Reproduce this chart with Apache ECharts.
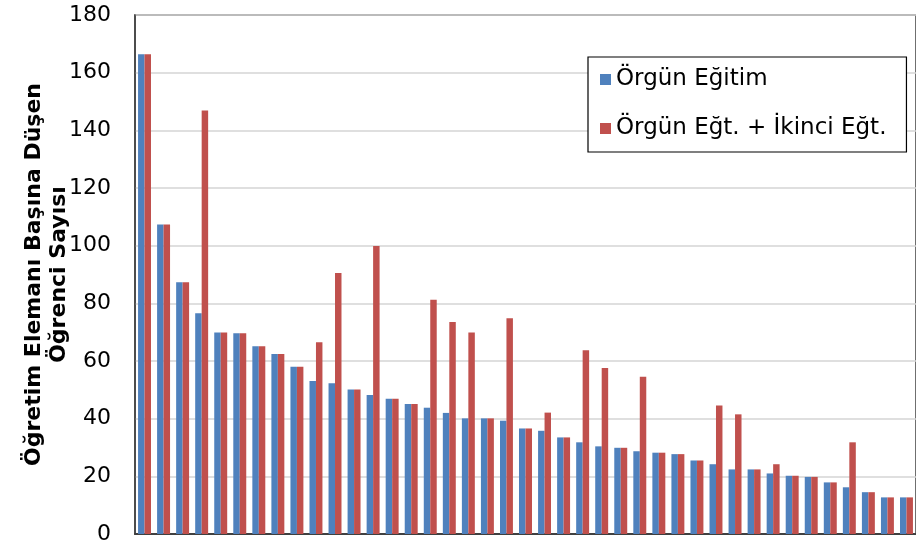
<!DOCTYPE html>
<html>
<head>
<meta charset="utf-8">
<script src="https://cdn.jsdelivr.net/npm/echarts@6/dist/echarts.min.js"></script>
<style>
html,body{margin:0;padding:0;background:#fff;}
#c{width:916px;height:546px;}
</style>
</head>
<body>
<div id="c"></div>
<script>
const categories = ["1","2","3","4","5","6","7","8","9","10","11","12","13","14","15","16","17","18","19","20","21","22","23","24","25","26","27","28","29","30","31","32","33","34","35","36","37","38","39","40","41"];
const orgunEgitim = [166.4,107.3,87.3,76.6,69.9,69.6,65.1,62.4,58.0,53.1,52.3,50.1,48.2,46.9,45.1,43.8,42.0,40.1,40.1,39.3,36.6,35.8,33.5,31.8,30.4,29.9,28.7,28.2,27.7,25.5,24.2,22.4,22.4,21.0,20.2,19.8,17.9,16.2,14.5,12.7,12.7];
const orgunIkinci = [166.4,107.3,87.3,146.9,69.9,69.6,65.1,62.4,58.0,66.5,90.5,50.1,99.9,46.9,45.1,81.2,73.5,69.9,40.1,74.8,36.6,42.1,33.5,63.7,57.6,29.9,54.5,28.2,27.7,25.5,44.6,41.5,22.4,24.2,20.2,19.8,17.9,31.8,14.5,12.7,12.7];
const seriesNames = ["Örgün Eğitim","Örgün Eğt. + İkinci Eğt."];
const yTicks = {min:0, max:180, interval:20};

const FONT = 'DejaVu Sans, Arial, sans-serif';
const chart = echarts.init(document.getElementById('c'), null, {renderer:'canvas'});
const catWidth = 19.275;
chart.setOption({
  backgroundColor:'#fff',
  animation:false,
  textStyle:{fontFamily:FONT},
  grid:{left:135, top:15, height:519, width: categories.length*catWidth, show:true, borderColor:'#404040', borderWidth:1.5, containLabel:false},
  legend:{
    orient:'vertical', left:588, top:57,
    itemWidth:11, itemHeight:11, itemGap:26, icon:'rect',
    padding:[11,20,12,12],
    borderColor:'#000', borderWidth:1.2, backgroundColor:'#fff',
    textStyle:{fontSize:23, color:'#000', fontFamily:FONT},
    data: seriesNames
  },
  xAxis:{type:'category', data:categories, axisLabel:{show:false}, axisTick:{show:false},
    axisLine:{lineStyle:{color:'#404040', width:2}}},
  yAxis:{type:'value', min:yTicks.min, max:yTicks.max, interval:yTicks.interval,
    axisLine:{show:true, lineStyle:{color:'#404040', width:1.5}},
    axisTick:{show:false},
    axisLabel:{fontSize:22, color:'#000', margin:24, fontFamily:FONT},
    splitLine:{lineStyle:{color:'#D4D4D4', width:1.5}},
    name:'Öğretim Elemanı Başına Düşen\nÖğrenci Sayısı',
    nameLocation:'middle', nameRotate:90, nameGap:63, nameMoveOverlap:false,
    nameTextStyle:{fontSize:22, fontWeight:'bold', color:'#000', lineHeight:25, align:'center', fontFamily:FONT}
  },
  series:[
    {name:seriesNames[0], type:'bar', data:orgunEgitim, barGap:'0%', barCategoryGap:'32%',
      itemStyle:{color:'#4F81BD'}},
    {name:seriesNames[1], type:'bar', data:orgunIkinci, barGap:'0%', barCategoryGap:'32%',
      itemStyle:{color:'#C0504D'}}
  ]
});
</script>
</body>
</html>
